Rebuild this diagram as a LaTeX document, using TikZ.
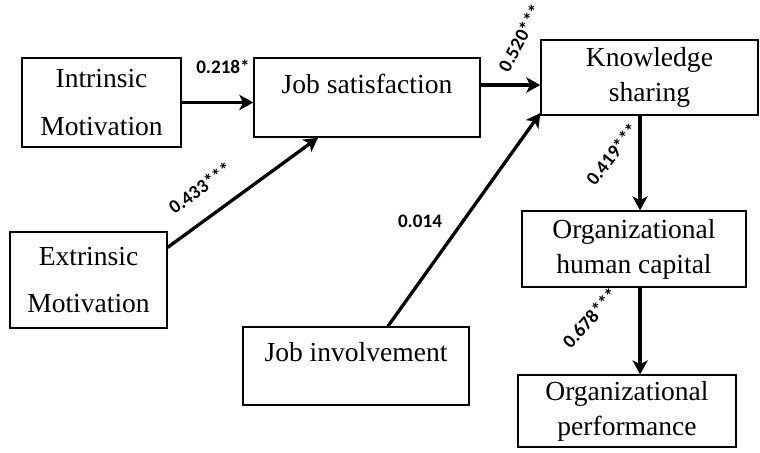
\documentclass[tikz,border=0pt]{standalone}
\usepackage{fontspec}
\setmainfont{Liberation Serif}
\newfontfamily\coeffont{Carlito}
\usetikzlibrary{arrows.meta}

\begin{document}
\begin{tikzpicture}[x=0.392pt, y=-0.392pt,
  box/.style={draw, line width=0.5pt, inner sep=0pt, align=center, font=\fontsize{10.8}{13.7}\selectfont},
  widebox/.style={box, font=\fontsize{10.8}{18.8}\selectfont},
  topbox/.style={box, text height=7.5pt, text depth=11pt},
  arr/.style={line width=1.3pt, -{Stealth[length=5.5pt,width=6pt,inset=1.5pt]}},
  coef/.style={font=\coeffont\bfseries\fontsize{7.5}{8}\selectfont, inner sep=0pt}]
  \useasboundingbox (0,0) rectangle (760,453);

  % left column
  \node[widebox, minimum width=62.3pt, minimum height=34.9pt] (intr) at (101.5,102.5) {Intrinsic\\Motivation};
  \node[widebox, minimum width=61.5pt, minimum height=37.6pt] (extr) at (88.5,280) {Extrinsic\\Motivation};
  % middle column
  \node[topbox, minimum width=88.6pt, minimum height=31pt] (jsat) at (367,97.5) {Job satisfaction};
  \node[topbox, minimum width=88.6pt, minimum height=30.6pt] (jinv) at (356,366) {Job involvement};
  % right column
  \node[box, minimum width=85.1pt, minimum height=29.4pt] (know) at (649.5,77.5) {Knowledge\\sharing};
  \node[box, minimum width=87.8pt, minimum height=29.8pt] (ohc) at (634,249) {Organizational\\human capital};
  \node[box, minimum width=85.5pt, minimum height=28.2pt] (perf) at (627,411) {Organizational\\performance};

  % paths
  \draw[arr] (intr.east) to (intr.east -| jsat.west);
  \draw[arr] ([yshift=-6.3pt]extr.north east) to ([xshift=-19.2pt]jsat.south);
  \draw[arr] ([yshift=4.9pt]jsat.east) to ([yshift=4.9pt]jsat.east -| know.west);
  \draw[arr] ([xshift=12.5pt]jinv.north) to ([yshift=1pt]know.south west);
  \draw[arr] ([xshift=-3.7pt]know.south) to ([xshift=-3.7pt]know.south |- ohc.north);
  \draw[arr] ([xshift=2.4pt]ohc.south) to ([xshift=2.4pt]ohc.south |- perf.north);

  % coefficients
  \node[coef] (c1) at (223,67) {0.218*};
  \node[coef, rotate=36] (c2) at (200,188) {0.433***};
  \node[coef, rotate=62] (c3) at (520,38) {0.520***};
  \node[coef] (c4) at (420,221) {0.014};
  \node[coef, rotate=52] (c5) at (612,154) {0.419***};
  \node[coef, rotate=48] (c6) at (590,318) {0.678***};
\end{tikzpicture}
\end{document}
